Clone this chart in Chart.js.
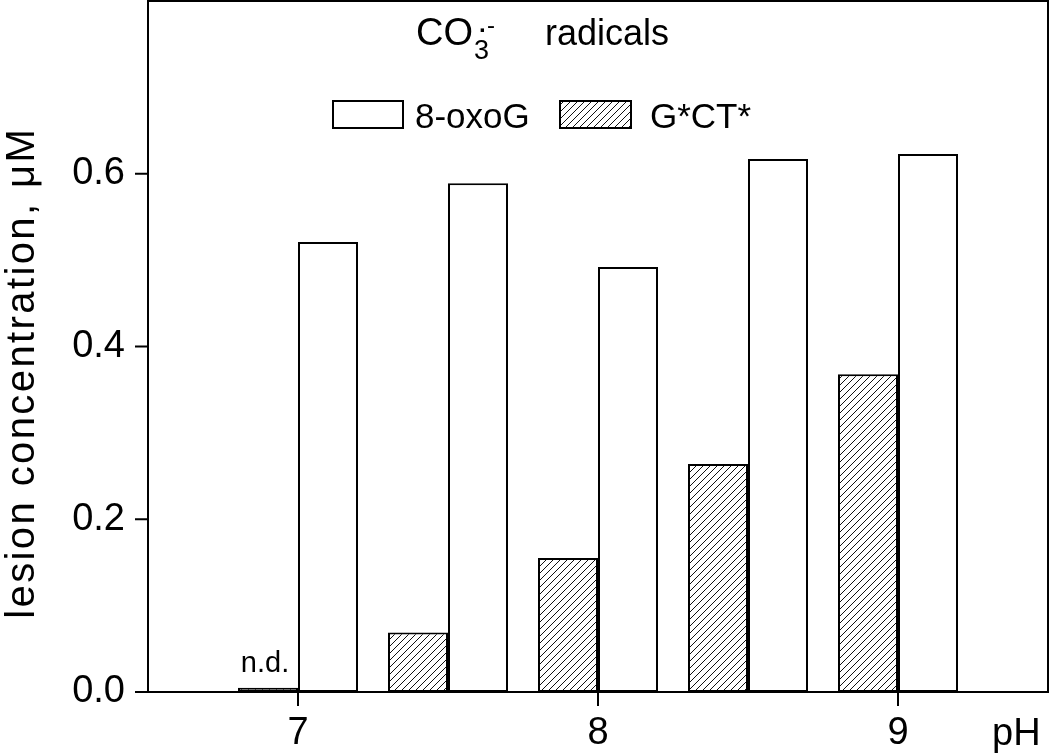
<!DOCTYPE html>
<html><head><meta charset="utf-8">
<script src="https://cdn.jsdelivr.net/npm/chart.js@4/dist/chart.umd.min.js"></script>
<style>html,body{margin:0;padding:0;background:#fff}#wrap{width:1050px;height:755px}</style>
</head><body><div id="wrap"><canvas id="c" width="1050" height="755"></canvas></div>
<script>
const phValues = [7.0, 7.5, 8.0, 8.5, 9.0];
const oxoGValues = [0.521, 0.589, 0.492, 0.617, 0.623];
const gctValues = [0.005, 0.069, 0.155, 0.264, 0.368];
const xTickLabels = ['7', '8', '9'];
const yTickLabels = ['0.0', '0.2', '0.4', '0.6'];
const seriesNames = ['8-oxoG', 'G*CT*'];
const xRange = [6.5, 9.5];
const yRange = [0, 0.8];

const FONT = '"Liberation Sans", Arial, Helvetica, sans-serif';
Chart.defaults.font.family = FONT;
Chart.defaults.color = '#000';

const canvas = document.getElementById('c');
const ctx0 = canvas.getContext('2d');

function makeHatch() {
  const s = 7;
  const c = document.createElement('canvas');
  c.width = s; c.height = s;
  const g = c.getContext('2d');
  g.fillStyle = '#fff'; g.fillRect(0, 0, s, s);
  g.strokeStyle = '#111'; g.lineWidth = 1;
  g.beginPath();
  g.moveTo(0, s); g.lineTo(s, 0);
  g.moveTo(-1, 1); g.lineTo(1, -1);
  g.moveTo(s - 1, s + 1); g.lineTo(s + 1, s - 1);
  g.stroke();
  return ctx0.createPattern(c, 'repeat');
}
const hatch = makeHatch();

const decorPlugin = {
  id: 'decor',
  afterDraw(chart) {
    const ctx = chart.ctx;
    const a = chart.chartArea;
    const xs = chart.scales.x, ys = chart.scales.y;
    ctx.save();
    // frame
    ctx.strokeStyle = '#000';
    ctx.lineWidth = 2;
    ctx.strokeRect(a.left, a.top, a.right - a.left, a.bottom - a.top);
    // x ticks
    ctx.beginPath();
    xs.ticks.forEach(t => {
      const px = xs.getPixelForValue(t.value);
      const major = Math.abs(t.value - Math.round(t.value)) < 1e-6;
      ctx.moveTo(px, a.bottom);
      ctx.lineTo(px, a.bottom + (major ? 14 : 7));
    });
    // y ticks
    ys.ticks.forEach(t => {
      const py = ys.getPixelForValue(t.value);
      const major = Math.round(t.value * 10) % 2 === 0;
      ctx.moveTo(a.left, py);
      ctx.lineTo(a.left - (major ? 13 : 8), py);
    });
    ctx.stroke();

    ctx.fillStyle = '#000';
    ctx.textBaseline = 'alphabetic';
    // title CO3.- radicals
    ctx.textAlign = 'left';
    ctx.font = '38px ' + FONT;
    ctx.fillText('CO', 416, 45);
    const wCO = ctx.measureText('CO').width;
    ctx.font = '27px ' + FONT;
    ctx.fillText('3', 416 + wCO + 1, 59);
    ctx.font = 'bold 24px ' + FONT;
    ctx.fillText('\u00B7', 479, 38);
    ctx.font = '24px ' + FONT;
    ctx.fillText('-', 487, 33);
    ctx.font = '36px ' + FONT;
    ctx.fillText('radicals', 545, 45);

    // legend
    ctx.lineWidth = 2;
    ctx.fillStyle = '#fff';
    ctx.fillRect(333, 101, 70, 27);
    ctx.strokeRect(333, 101, 70, 27);
    ctx.fillStyle = hatch;
    ctx.fillRect(560, 101, 71, 27);
    ctx.strokeRect(560, 101, 71, 27);
    ctx.fillStyle = '#000';
    ctx.font = '35px ' + FONT;
    ctx.fillText(seriesNames[0], 415, 128);
    ctx.fillText(seriesNames[1], 650, 128);

    // n.d. label above first G*CT* bar
    const meta = chart.getDatasetMeta(0);
    const bar0 = meta.data[0];
    ctx.font = '29px ' + FONT;
    ctx.textAlign = 'center';
    ctx.fillText('n.d.', bar0.x - 3, 672);

    // pH label
    ctx.font = '38px ' + FONT;
    ctx.textAlign = 'left';
    ctx.fillText('pH', 992, 745);

    // y-axis title
    const ttl = 'lesion concentration, \u03BCM';
    ctx.font = '40px ' + FONT;
    const w = ctx.measureText(ttl).width;
    const sp = (492 - w) / ttl.length;
    ctx.translate(34, 374);
    ctx.rotate(-Math.PI / 2);
    ctx.letterSpacing = sp.toFixed(2) + 'px';
    ctx.textAlign = 'center';
    ctx.fillText(ttl, sp / 2, 0);
    ctx.restore();
  }
};

new Chart(canvas, {
  type: 'bar',
  data: {
    datasets: [
      {
        label: seriesNames[1],
        data: phValues.map((p, i) => ({ x: p, y: gctValues[i] })),
        backgroundColor: hatch,
        borderColor: '#000',
        borderWidth: 2,
        borderSkipped: false
      },
      {
        label: seriesNames[0],
        data: phValues.map((p, i) => ({ x: p, y: oxoGValues[i] })),
        backgroundColor: '#fff',
        borderColor: '#000',
        borderWidth: 2,
        borderSkipped: false
      }
    ]
  },
  options: {
    responsive: false,
    animation: false,
    devicePixelRatio: 1,
    categoryPercentage: 0.8,
    barPercentage: 1.0,
    layout: { padding: { top: 1, right: 2, left: 0, bottom: 0 } },
    plugins: { legend: { display: false }, tooltip: { enabled: false }, title: { display: false } },
    scales: {
      x: {
        type: 'linear', min: xRange[0], max: xRange[1], offset: false,
        grid: { display: false, drawTicks: false, offset: false },
        border: { display: false },
        ticks: {
          stepSize: 0.5, autoSkip: false, maxRotation: 0, padding: 19,
          font: { size: 38 }, color: '#000',
          callback: (v) => { const s = String(v); return xTickLabels.includes(s) ? s : null; }
        },
        afterFit: (s) => { s.height = 63; s.paddingLeft = 0; s.paddingRight = 0; }
      },
      y: {
        min: yRange[0], max: yRange[1],
        grid: { display: false, drawTicks: false },
        border: { display: false },
        ticks: {
          stepSize: 0.1, autoSkip: false, padding: 23,
          font: { size: 38 }, color: '#000',
          callback: (v) => { const s = Number(v).toFixed(1); return yTickLabels.includes(s) ? s : null; }
        },
        afterFit: (s) => { s.width = 148; s.paddingTop = 0; s.paddingBottom = 0; }
      }
    }
  },
  plugins: [decorPlugin]
});
</script></body></html>
